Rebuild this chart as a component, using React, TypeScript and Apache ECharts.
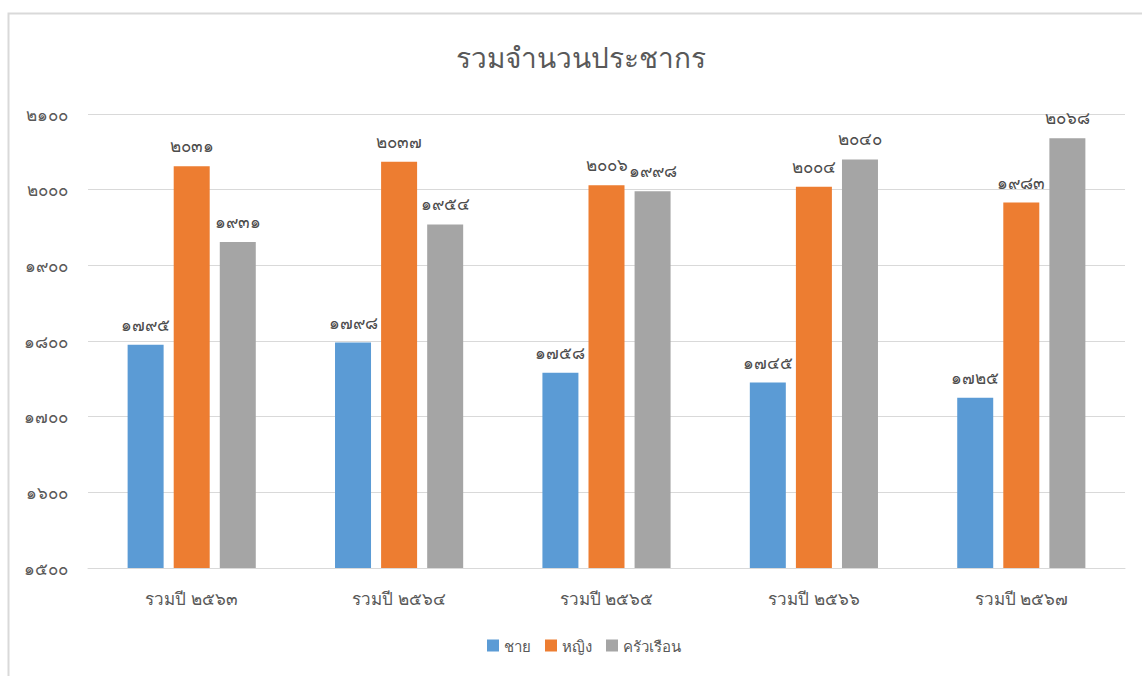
import React, { useEffect, useRef } from "react";
import * as echarts from "echarts";

const categories = ["รวมปี ๒๕๖๓", "รวมปี ๒๕๖๔", "รวมปี ๒๕๖๕", "รวมปี ๒๕๖๖", "รวมปี ๒๕๖๗"];
const seriesNames = ["ชาย", "หญิง", "ครัวเรือน"];
const male = [1795, 1798, 1758, 1745, 1725];
const female = [2031, 2037, 2006, 2004, 1983];
const household = [1931, 1954, 1998, 2040, 2068];
const colors = ["#5b9bd5", "#ed7d31", "#a5a5a5"];

const thaiDigits = "๐๑๒๓๔๕๖๗๘๙";
const toThai = (v: number | string) =>
  String(v).replace(/[0-9]/g, (d) => thaiDigits[Number(d)]);

const FONT = "Tahoma, 'Noto Sans', sans-serif";

export default function App() {
  const ref = useRef<HTMLDivElement>(null);
  useEffect(() => {
    if (!ref.current) return;
    const chart = echarts.init(ref.current, null, { renderer: "svg" });
    const mk = (name: string, data: number[], color: string) => ({
      name,
      type: "bar",
      data,
      barWidth: 36,
      barGap: "28%",
      itemStyle: { color },
      label: {
        show: true,
        position: "top",
        distance: 12,
        color: "#4d4d4d",
        fontSize: 17,
        fontFamily: FONT,
        formatter: (p: any) => toThai(p.value),
      },
    });
    chart.setOption({
      animation: false,
      textStyle: { fontFamily: FONT },
      graphic: [
        {
          type: "rect",
          left: 6,
          top: 11,
          shape: { width: 1200, height: 700 },
          style: { fill: "none", stroke: "#d9d9d9", lineWidth: 2 },
          silent: true,
        },
      ],
      title: {
        text: "รวมจำนวนประชากร",
        left: 451,
        top: 38,
        textStyle: { fontSize: 28, fontWeight: "normal", color: "#595959", fontFamily: FONT },
      },
      legend: {
        data: seriesNames,
        bottom: 18,
        left: 482,
        itemWidth: 12,
        itemHeight: 12,
        itemGap: 14,
        icon: "rect",
        textStyle: { fontSize: 15, color: "#595959", fontFamily: FONT },
      },
      grid: { left: 88, right: 17, top: 114, bottom: 108, containLabel: false },
      xAxis: {
        type: "category",
        data: categories,
        axisTick: { show: false },
        axisLine: { lineStyle: { color: "#d9d9d9" } },
        axisLabel: { fontSize: 17, color: "#595959", margin: 22, fontFamily: FONT },
      },
      yAxis: {
        type: "value",
        min: 1500,
        max: 2100,
        interval: 100,
        axisLine: { show: false },
        axisTick: { show: false },
        splitLine: { lineStyle: { color: "#d9d9d9" } },
        axisLabel: {
          fontSize: 17,
          color: "#595959",
          margin: 20,
          fontFamily: FONT,
          formatter: (v: number) => toThai(v),
        },
      },
      series: [mk(seriesNames[0], male, colors[0]), mk(seriesNames[1], female, colors[1]), mk(seriesNames[2], household, colors[2])],
    });
    return () => chart.dispose();
  }, []);
  return (
    <div
      ref={ref}
      style={{ position: "absolute", left: 0, top: 0, width: 1142, height: 676 }}
    />
  );
}
